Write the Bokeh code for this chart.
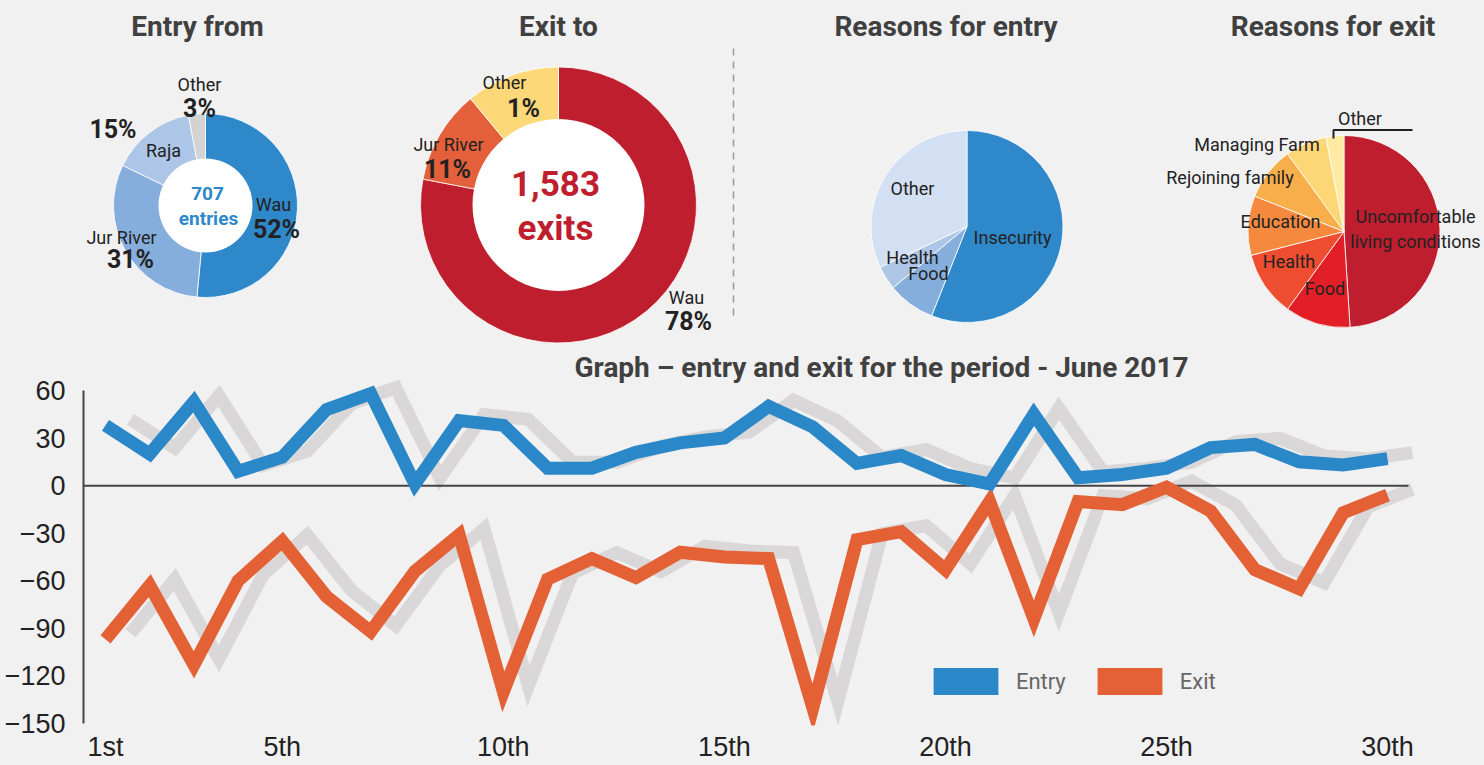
import math
from bokeh.plotting import figure
from bokeh.models import Range1d, FixedTicker, Label, Legend, LegendItem
from bokeh.layouts import column
from bokeh.core.properties import value
from bokeh.embed import file_html
from bokeh.resources import INLINE

# ---------------- data ----------------
entry_from_cats = ["Wau", "Jur River", "Raja", "Other"]
entry_from_vals = [52, 31, 15, 3]
entries_total = "707"
entries_word = "entries"

exit_to_cats = ["Wau", "Jur River", "Other"]
exit_to_vals = [78, 11, 11]              # slice sizes as drawn
exit_to_pct = ["78%", "11%", "1%"]       # percentages as printed
exits_total = "1,583"
exits_word = "exits"

entry_reason_cats = ["Insecurity", "Food", "Health", "Other"]
entry_reason_vals = [56, 8, 4, 32]

exit_reason_cats = ["Uncomfortable living conditions", "Food", "Health", "Education",
                    "Rejoining family", "Managing Farm", "Other"]
exit_reason_vals = [49, 11, 11, 10, 9, 7, 3]

days = list(range(1, 31))
day_ticks = [1, 5, 10, 15, 20, 25, 30]
day_tick_labels = ["1st", "5th", "10th", "15th", "20th", "25th", "30th"]
value_ticks = [-150, -120, -90, -60, -30, 0, 30, 60]
entry_daily = [38, 20, 53, 9, 18, 48, 58, 1, 41, 38, 11, 11, 21, 27, 30,
               50, 37, 14, 19, 7, 1, 45, 5, 7, 11, 24, 26, 15, 13, 17]
exit_daily = [-97, -63, -113, -60, -35, -70, -92, -54, -31, -130, -59, -46, -58, -42, -45,
              -46, -140, -34, -29, -53, -10, -84, -10, -12, -1, -16, -53, -65, -17, -6]

titles = ["Entry from", "Exit to", "Reasons for entry", "Reasons for exit"]
chart_title = "Graph \u2013 entry and exit for the period - June 2017"
legend_labels = ["Entry", "Exit"]

# ---------------- style ----------------
BG = "#f1f1f1"
FN = "Roboto"
FR = "Liberation Sans"
TXT = "#222222"
TITLE_C = "#404040"
BLUE = "#2b88c8"
ORANGE = "#e46136"
SHADOW = "#d9d7d7"
RED = "#be1e2d"

entry_from_colors = ["#2e88c9", "#86aedc", "#adc6e7", "#d3d3d3"]
exit_to_colors = [RED, "#e4603a", "#fdd878"]
entry_reason_colors = ["#2e88c9", "#86aedc", "#adc6e7", "#d3dff2"]
exit_reason_colors = [RED, "#e21f26", "#ee4d30", "#f58a3f", "#f9ae4c", "#fdd676", "#feeaa2"]

W, H = 1484, 765
H_TOP = 345
FRAME_L = 83


def angles(vals):
    tot = float(sum(vals))
    s, e, c = [], [], 0.0
    for v in vals:
        s.append(math.pi / 2 - 2 * math.pi * (c + v) / tot)
        e.append(math.pi / 2 - 2 * math.pi * c / tot)
        c += v
    return s, e


# ---------------- top figure: pies (pixel space, y downwards as negative) ----------------
p1 = figure(width=W, height=H_TOP, x_range=Range1d(FRAME_L, W), y_range=Range1d(-H_TOP, 0),
            output_backend="svg", toolbar_location=None,
            min_border_left=FRAME_L, min_border_right=0, min_border_top=0, min_border_bottom=0)
p1.axis.visible = False
p1.grid.visible = False
p1.outline_line_color = None
p1.background_fill_color = BG
p1.border_fill_color = BG


def pie(cx, cy, r, vals, colors, hole=None):
    s, e = angles(vals)
    n = len(vals)
    p1.wedge(x=[cx] * n, y=[-cy] * n, radius=r, radius_units="screen",
             start_angle=s, end_angle=e, direction="anticlock",
             fill_color=colors, line_color="white", line_width=0.8)
    if hole:
        p1.scatter(x=[cx], y=[-cy], size=2 * hole, marker="circle",
                   fill_color="white", line_color=None)


pie(205, 205, 92, entry_from_vals, entry_from_colors, hole=47)
pie(558, 204.5, 138, exit_to_vals, exit_to_colors, hole=86)
pie(966.5, 226, 96, entry_reason_vals, entry_reason_colors)
pie(1343.5, 231, 96, exit_reason_vals, exit_reason_colors)


def txt(xs, baselines, texts, size, color=TXT, bold=False, font=FN):
    px = float(size.replace("px", ""))
    p1.text(x=xs, y=[-(b - 0.35 * px) for b in baselines], text=texts, text_font=value(font),
            text_font_size=size, text_font_style="bold" if bold else "normal",
            text_color=color, text_align="center", text_baseline="middle")


LBL = "18px"
PCT = "25px"

# titles
txt([197, 558, 945.5, 1332.5], [36, 36, 36, 36], titles, "28px", TITLE_C, True)

# Entry from
pct1 = ["%d%%" % v for v in entry_from_vals]
txt([273, 121, 163, 199], [210, 243, 156, 90.5], entry_from_cats, LBL)
txt([276, 130, 112.5, 199], [238, 268, 138, 117], pct1, PCT, bold=True)
txt([207, 208], [200, 225], [entries_total, entries_word], "19px", "#2e88c9", True)

# Exit to
txt([686, 448, 504], [303, 150, 88], exit_to_cats, LBL)
txt([688, 447, 523], [330, 178, 117], exit_to_pct, PCT, bold=True)
txt([555, 555], [195, 240], [exits_total, exits_word], "35px", RED, True)

# separator
p1.line(x=[733, 733], y=[-48, -320], line_color="#9a9a9a", line_width=1.5, line_dash="7 6")

# Reasons for entry
txt([1012, 928, 912, 912], [243, 279, 263, 194], entry_reason_cats, LBL)

# Reasons for exit
txt([1415, 1415], [222, 247], exit_reason_cats[0].replace("living", "|living").split(" |"), LBL)
txt([1324.5, 1288.5, 1280, 1229.5, 1256.5, 1359.5], [294, 267, 227, 183, 150, 124],
    exit_reason_cats[1:], LBL)
p1.line(x=[1333, 1333, 1412], y=[-138, -129.5, -129.5], line_color="#222222", line_width=2)

# ---------------- bottom figure: daily line chart ----------------
PX_DAY = 44.207
PX_UNIT = 1.5857
x0 = days[0] - (105 - FRAME_L) / PX_DAY
x1 = x0 + (W - FRAME_L) / PX_DAY
y1 = 60 + (390 - H_TOP) / PX_UNIT
y0 = y1 - (725 - H_TOP) / PX_UNIT

p2 = figure(width=W, height=H - H_TOP, x_range=Range1d(x0, x1), y_range=Range1d(y0, y1),
            output_backend="svg", toolbar_location=None,
            min_border_left=FRAME_L, min_border_right=0, min_border_top=0, min_border_bottom=40)
p2.grid.visible = False
p2.outline_line_color = None
p2.background_fill_color = BG
p2.border_fill_color = BG

ya = p2.yaxis[0]
ya.ticker = FixedTicker(ticks=value_ticks)
ya.bounds = (min(value_ticks), max(value_ticks))
ya.axis_line_color = "#444444"
ya.axis_line_width = 2
ya.major_tick_line_color = None
ya.minor_tick_line_color = None
ya.major_label_standoff = 12
ya.major_label_text_font = FR
ya.major_label_text_font_size = "27px"
ya.major_label_text_color = TXT

xa = p2.xaxis[0]
xa.ticker = FixedTicker(ticks=day_ticks)
xa.major_label_overrides = dict(zip(day_ticks, day_tick_labels))
xa.axis_line_color = None
xa.major_tick_line_color = None
xa.minor_tick_line_color = None
xa.major_label_standoff = 0
xa.major_label_text_font = FR
xa.major_label_text_font_size = "27px"
xa.major_label_text_color = TXT

# drop shadow offset (style)
sdx, sdy = 25 / PX_DAY, 6 / PX_UNIT
p2.line(x=[d + sdx for d in days], y=[v + sdy for v in entry_daily], line_color=SHADOW,
        line_width=13, line_join="miter")
p2.line(x=[d + sdx for d in days], y=[v + sdy for v in exit_daily], line_color=SHADOW,
        line_width=13, line_join="miter")
p2.line(x=[x0, days[-1] + 0.475], y=[0, 0], line_color="#444444", line_width=2)
p2.line(x=days, y=exit_daily, line_color=ORANGE, line_width=13, line_join="miter")
p2.line(x=days, y=entry_daily, line_color=BLUE, line_width=13, line_join="miter")

p2.add_layout(Label(x=days[0] + (881 - 105) / PX_DAY, y=60 + (390 - (377 - 0.35 * 28)) / PX_UNIT,
                    text=chart_title, text_font=FN, text_font_style="bold",
                    text_font_size="28px", text_color=TITLE_C, text_align="center",
                    text_baseline="middle"))

# legend: area swatches are drawn inset by 10% of the glyph box
SW_W, SW_H = 65, 27
GW, GH = SW_W / 0.8, SW_H / 0.8
nan = float("nan")
r_e = p2.rect(x=[nan], y=[nan], width=1, height=1, fill_color=BLUE, line_color=None)
r_x = p2.rect(x=[nan], y=[nan], width=1, height=1, fill_color=ORANGE, line_color=None)
legend = Legend(items=[LegendItem(label=legend_labels[0], renderers=[r_e]),
                       LegendItem(label=legend_labels[1], renderers=[r_x])],
                orientation="horizontal",
                location=(933 - 0.1 * GW - FRAME_L, 725 - (695 + 0.1 * GH)),
                padding=0, margin=0, spacing=23, label_standoff=10,
                glyph_width=int(round(GW)), glyph_height=int(round(GH)),
                label_height=int(round(GH)), label_text_font=FN, label_text_font_size="22px",
                label_text_color="#666666", label_text_baseline="middle",
                border_line_color=None, background_fill_alpha=0)
p2.add_layout(legend)

layout = column(p1, p2, spacing=0, styles={"background-color": BG})
open("out.html", "w").write(file_html(layout, INLINE, title="Entry and exit - June 2017"))
